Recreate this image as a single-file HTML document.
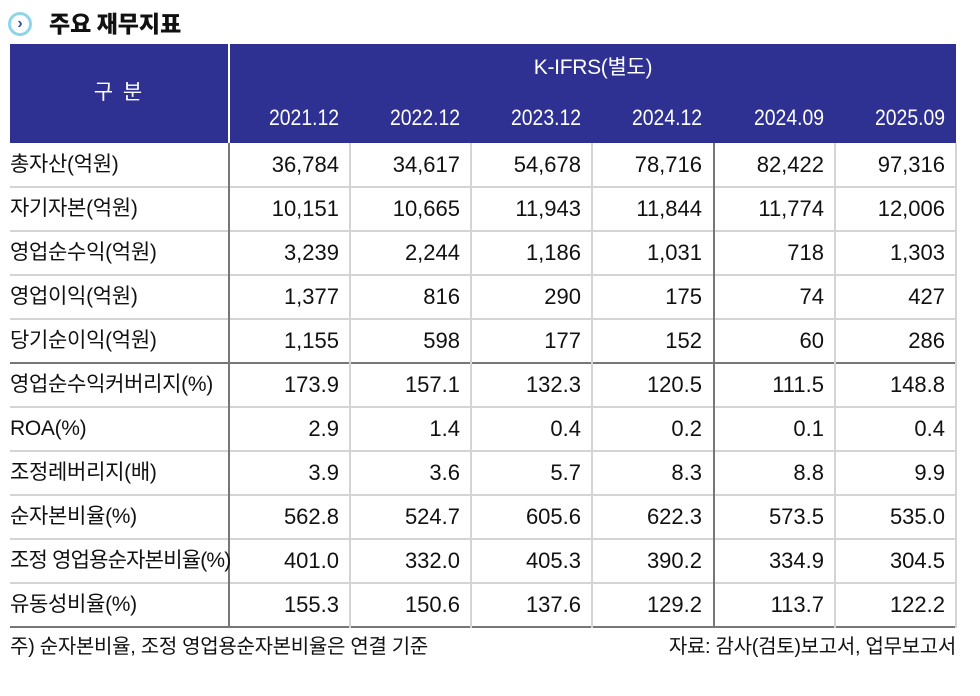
<!DOCTYPE html>
<html><head><meta charset="utf-8"><style>
body{margin:0;width:980px;height:696px;background:#fff;position:relative;overflow:hidden;font-family:"Liberation Sans","Noto Sans CJK KR",sans-serif;color:#111}
.a{position:absolute}
.hd{background:#2e3192;color:#fff}
.c{position:absolute;font-size:21px;letter-spacing:-0.3px;line-height:44px;white-space:nowrap}
.r{text-align:right;font-size:22px;letter-spacing:0}
.y{position:absolute;font-size:22px;line-height:44px;color:#fff;white-space:nowrap;text-align:right;transform:scaleX(0.88);transform-origin:right center}
.hl{position:absolute;height:2px;background:#d4d4d4}
.vl{position:absolute;width:2px;background:#d4d4d4}
</style></head><body>
<div class="a" style="left:8px;top:12px;width:24px;height:24px;border-radius:50%;border:3px solid #8dd6ea;box-sizing:border-box;"></div>
<div class="a" style="left:8px;top:12px;font-size:16px;color:#3a4aa0;font-weight:bold;line-height:23px;width:24px;text-align:center">›</div>
<div class="a" style="left:49px;top:6px;font-size:23px;font-weight:900;line-height:32px;font-family:'Noto Sans CJK KR',sans-serif">주요 재무지표</div>

<div class="a hd" style="left:10px;top:44px;width:218px;height:99px"></div>
<div class="a hd" style="left:230px;top:44px;width:726px;height:99px"></div>
<div class="c" style="left:10px;top:71px;width:218px;text-align:center;color:#fff;letter-spacing:2px">구 분</div>
<div class="c" style="left:230px;top:46px;width:726px;text-align:center;color:#fff">K-IFRS(별도)</div>

<div class="y" style="left:230px;top:96px;width:109px">2021.12</div>
<div class="y" style="left:351px;top:96px;width:109px">2022.12</div>
<div class="y" style="left:472px;top:96px;width:109px">2023.12</div>
<div class="y" style="left:593px;top:96px;width:109px">2024.12</div>
<div class="y" style="left:715px;top:96px;width:109px">2024.09</div>
<div class="y" style="left:836px;top:96px;width:109px">2025.09</div>

<div class="hl" style="left:10px;top:186px;width:946px"></div>
<div class="hl" style="left:10px;top:230px;width:946px"></div>
<div class="hl" style="left:10px;top:274px;width:946px"></div>
<div class="hl" style="left:10px;top:318px;width:946px"></div>
<div class="hl" style="left:10px;top:362px;width:946px;background:#777"></div>
<div class="hl" style="left:10px;top:406px;width:946px"></div>
<div class="hl" style="left:10px;top:450px;width:946px"></div>
<div class="hl" style="left:10px;top:494px;width:946px"></div>
<div class="hl" style="left:10px;top:538px;width:946px"></div>
<div class="hl" style="left:10px;top:582px;width:946px"></div>
<div class="hl" style="left:10px;top:626px;width:946px;background:#777"></div>
<div class="vl" style="left:228px;top:143px;height:485px;background:#777"></div>
<div class="vl" style="left:349px;top:143px;height:485px"></div>
<div class="vl" style="left:470px;top:143px;height:485px"></div>
<div class="vl" style="left:591px;top:143px;height:485px"></div>
<div class="vl" style="left:713px;top:143px;height:485px;background:#777"></div>
<div class="vl" style="left:834px;top:143px;height:485px"></div>
<div class="vl" style="left:955px;top:143px;height:485px"></div>

<div class="c" style="left:10px;top:143px">총자산(억원)</div>
<div class="c r" style="left:230px;top:143px;width:109px">36,784</div><div class="c r" style="left:351px;top:143px;width:109px">34,617</div><div class="c r" style="left:472px;top:143px;width:109px">54,678</div><div class="c r" style="left:593px;top:143px;width:109px">78,716</div><div class="c r" style="left:715px;top:143px;width:109px">82,422</div><div class="c r" style="left:836px;top:143px;width:109px">97,316</div>

<div class="c" style="left:10px;top:187px">자기자본(억원)</div>
<div class="c r" style="left:230px;top:187px;width:109px">10,151</div><div class="c r" style="left:351px;top:187px;width:109px">10,665</div><div class="c r" style="left:472px;top:187px;width:109px">11,943</div><div class="c r" style="left:593px;top:187px;width:109px">11,844</div><div class="c r" style="left:715px;top:187px;width:109px">11,774</div><div class="c r" style="left:836px;top:187px;width:109px">12,006</div>

<div class="c" style="left:10px;top:231px">영업순수익(억원)</div>
<div class="c r" style="left:230px;top:231px;width:109px">3,239</div><div class="c r" style="left:351px;top:231px;width:109px">2,244</div><div class="c r" style="left:472px;top:231px;width:109px">1,186</div><div class="c r" style="left:593px;top:231px;width:109px">1,031</div><div class="c r" style="left:715px;top:231px;width:109px">718</div><div class="c r" style="left:836px;top:231px;width:109px">1,303</div>

<div class="c" style="left:10px;top:275px">영업이익(억원)</div>
<div class="c r" style="left:230px;top:275px;width:109px">1,377</div><div class="c r" style="left:351px;top:275px;width:109px">816</div><div class="c r" style="left:472px;top:275px;width:109px">290</div><div class="c r" style="left:593px;top:275px;width:109px">175</div><div class="c r" style="left:715px;top:275px;width:109px">74</div><div class="c r" style="left:836px;top:275px;width:109px">427</div>

<div class="c" style="left:10px;top:319px">당기순이익(억원)</div>
<div class="c r" style="left:230px;top:319px;width:109px">1,155</div><div class="c r" style="left:351px;top:319px;width:109px">598</div><div class="c r" style="left:472px;top:319px;width:109px">177</div><div class="c r" style="left:593px;top:319px;width:109px">152</div><div class="c r" style="left:715px;top:319px;width:109px">60</div><div class="c r" style="left:836px;top:319px;width:109px">286</div>

<div class="c" style="left:10px;top:363px">영업순수익커버리지(%)</div>
<div class="c r" style="left:230px;top:363px;width:109px">173.9</div><div class="c r" style="left:351px;top:363px;width:109px">157.1</div><div class="c r" style="left:472px;top:363px;width:109px">132.3</div><div class="c r" style="left:593px;top:363px;width:109px">120.5</div><div class="c r" style="left:715px;top:363px;width:109px">111.5</div><div class="c r" style="left:836px;top:363px;width:109px">148.8</div>

<div class="c" style="left:10px;top:407px">ROA(%)</div>
<div class="c r" style="left:230px;top:407px;width:109px">2.9</div><div class="c r" style="left:351px;top:407px;width:109px">1.4</div><div class="c r" style="left:472px;top:407px;width:109px">0.4</div><div class="c r" style="left:593px;top:407px;width:109px">0.2</div><div class="c r" style="left:715px;top:407px;width:109px">0.1</div><div class="c r" style="left:836px;top:407px;width:109px">0.4</div>

<div class="c" style="left:10px;top:451px">조정레버리지(배)</div>
<div class="c r" style="left:230px;top:451px;width:109px">3.9</div><div class="c r" style="left:351px;top:451px;width:109px">3.6</div><div class="c r" style="left:472px;top:451px;width:109px">5.7</div><div class="c r" style="left:593px;top:451px;width:109px">8.3</div><div class="c r" style="left:715px;top:451px;width:109px">8.8</div><div class="c r" style="left:836px;top:451px;width:109px">9.9</div>

<div class="c" style="left:10px;top:495px">순자본비율(%)</div>
<div class="c r" style="left:230px;top:495px;width:109px">562.8</div><div class="c r" style="left:351px;top:495px;width:109px">524.7</div><div class="c r" style="left:472px;top:495px;width:109px">605.6</div><div class="c r" style="left:593px;top:495px;width:109px">622.3</div><div class="c r" style="left:715px;top:495px;width:109px">573.5</div><div class="c r" style="left:836px;top:495px;width:109px">535.0</div>

<div class="c" style="left:10px;top:539px;letter-spacing:-0.8px">조정 영업용순자본비율(%)</div>
<div class="c r" style="left:230px;top:539px;width:109px">401.0</div><div class="c r" style="left:351px;top:539px;width:109px">332.0</div><div class="c r" style="left:472px;top:539px;width:109px">405.3</div><div class="c r" style="left:593px;top:539px;width:109px">390.2</div><div class="c r" style="left:715px;top:539px;width:109px">334.9</div><div class="c r" style="left:836px;top:539px;width:109px">304.5</div>

<div class="c" style="left:10px;top:583px">유동성비율(%)</div>
<div class="c r" style="left:230px;top:583px;width:109px">155.3</div><div class="c r" style="left:351px;top:583px;width:109px">150.6</div><div class="c r" style="left:472px;top:583px;width:109px">137.6</div><div class="c r" style="left:593px;top:583px;width:109px">129.2</div><div class="c r" style="left:715px;top:583px;width:109px">113.7</div><div class="c r" style="left:836px;top:583px;width:109px">122.2</div>

<div class="c" style="left:10px;top:625px;font-size:20px">주) 순자본비율, 조정 영업용순자본비율은 연결 기준</div>
<div class="c" style="left:560px;top:625px;width:396px;font-size:20px;text-align:right">자료: 감사(검토)보고서, 업무보고서</div>
</body></html>
